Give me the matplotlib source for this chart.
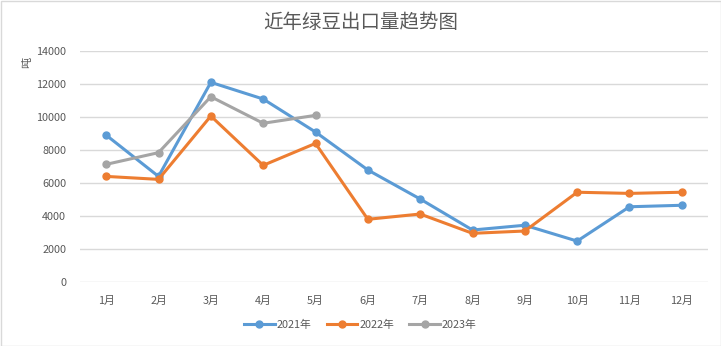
import matplotlib.pyplot as plt
from matplotlib.patches import Rectangle

plt.rcParams['font.family'] = ['Noto Sans CJK SC', 'DejaVu Sans']

months = ['1月', '2月', '3月', '4月', '5月', '6月', '7月', '8月', '9月', '10月', '11月', '12月']
y2021 = [8900, 6400, 12100, 11090, 9090, 6790, 5030, 3150, 3440, 2480, 4560, 4650]
y2022 = [6400, 6220, 10060, 7070, 8400, 3800, 4120, 2950, 3090, 5440, 5370, 5440]
y2023 = [7130, 7840, 11230, 9620, 10100]
yticks = [0, 2000, 4000, 6000, 8000, 10000, 12000, 14000]

text_color = '#595959'
grid_color = '#D9D9D9'

fig = plt.figure(figsize=(7.21, 3.46), dpi=100)
ax = fig.add_axes([80 / 721, 1 - 282 / 346, 628 / 721, 231 / 346])

x = list(range(len(months)))
ax.plot(x, y2021, color='#5B9BD5', lw=2.2, marker='o', ms=5, label='2021年')
ax.plot(x, y2022, color='#ED7D31', lw=2.2, marker='o', ms=5, label='2022年')
ax.plot(x[:len(y2023)], y2023, color='#A5A5A5', lw=2.2, marker='o', ms=5, label='2023年')

ax.set_xlim(-0.5, len(months) - 0.5)
ax.set_ylim(0, 14000)
ax.set_yticks(yticks)
ax.set_xticks(x)
ax.set_xticklabels(months)
ax.grid(axis='y', color=grid_color, lw=1)
ax.set_axisbelow(True)
for s in ax.spines.values():
    s.set_visible(False)
ax.tick_params(length=0, labelsize=7.8, labelcolor=text_color)
ax.tick_params(axis='x', pad=10)
ax.tick_params(axis='y', pad=10)

fig.text(27 / 721, 1 - 62 / 346, '吨', rotation=90, ha='center', va='center',
         fontsize=8, color=text_color)
fig.text(0.5, 1 - 22 / 346, '近年绿豆出口量趋势图', ha='center', va='center',
         fontsize=14, color=text_color)

fig.legend(loc='center', bbox_to_anchor=(0.5, 1 - 325 / 346), ncol=3, frameon=False,
           fontsize=7.8, labelcolor=text_color, handlelength=2.8, handletextpad=0.2,
           columnspacing=1.4)

fig.patches.append(Rectangle((0.5 / 721, 0.5 / 346), 1 - 1 / 721, 1 - 1 / 346,
                             transform=fig.transFigure, fill=False,
                             edgecolor=grid_color, lw=1))

fig.savefig('out.png', dpi=100)
